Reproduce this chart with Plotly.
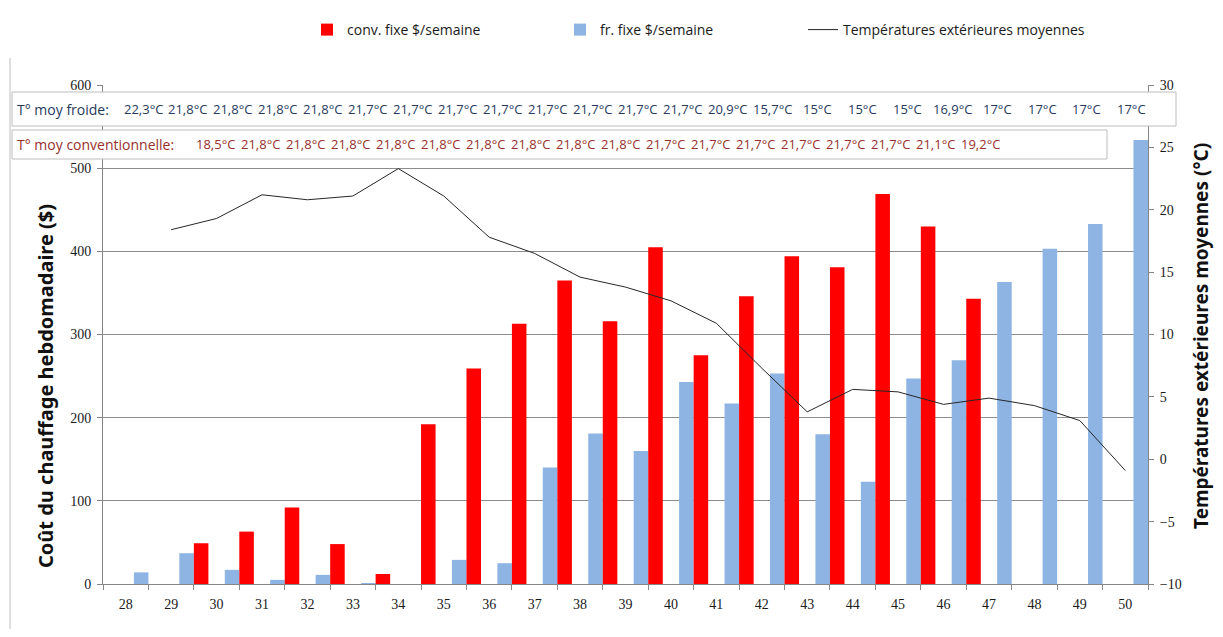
import plotly.graph_objects as go

# ---------------- data ----------------
weeks = list(range(28, 51))                      # category labels 28..50

fr_weeks = list(range(28, 51))                   # "fr. fixe" bars
fr_cost = [14, 37, 17, 5, 11, 1, 0, 29, 25, 140, 181, 160, 243, 217, 253,
           180, 123, 247, 269, 363, 403, 433, 534]

conv_weeks = list(range(29, 47))                 # "conv. fixe" bars
conv_cost = [49, 63, 92, 48, 12, 192, 259, 313, 365, 316, 405, 275, 346,
             394, 381, 469, 430, 343]

temp_weeks = list(range(29, 51))                 # outdoor temperature line
temp_ext = [18.4, 19.3, 21.2, 20.8, 21.1, 23.3, 21.1, 17.8, 16.5, 14.6,
            13.8, 12.7, 10.9, 7.3, 3.8, 5.6, 5.4, 4.4, 4.9, 4.3, 3.1, -0.9]

t_froide = ["22,3", "21,8", "21,8", "21,8", "21,8", "21,7", "21,7", "21,7",
            "21,7", "21,7", "21,7", "21,7", "21,7", "20,9", "15,7", "15",
            "15", "15", "16,9", "17", "17", "17", "17"]
t_conv = ["18,5", "21,8", "21,8", "21,8", "21,8", "21,8", "21,8", "21,8",
          "21,8", "21,8", "21,7", "21,7", "21,7", "21,7", "21,7", "21,7",
          "21,1", "19,2"]

y_left_ticks = [0, 100, 200, 300, 400, 500, 600]
y_right_ticks = [-10, -5, 0, 5, 10, 15, 20, 25, 30]

# ---------------- geometry helpers ----------------
# the page body has an 8px margin: the figure is sized/offset to compensate
OFF = 8
W, H = 1223 - 2 * OFF, 637 - 2 * OFF
ML, MT, PW, PH = 95, 77, 1045, 499
MR, MB = W - ML - PW, H - MT - PH


def px(page_x):
    return (page_x - OFF - ML) / PW


def py(page_y):
    return (MT + PH - (page_y - OFF)) / PH


RED = "#FF0000"
BLUE = "#8DB4E2"
GRID = "#8C8C8C"
AXIS = "#868686"
TICKFONT = dict(family="Liberation Serif", size=14, color="#1a1a1a")
LEGFONT = dict(family="Open Sans", size=14, color="#1a1a1a")
NAVY = "#263a5e"
DRED = "#97302c"

fig = go.Figure()

fig.add_trace(go.Bar(
    x=[w + 0.5 for w in fr_weeks], y=fr_cost, name="fr. fixe $/semaine",
    marker=dict(color=BLUE, line=dict(width=0)), legendrank=2))
fig.add_trace(go.Bar(
    x=[w + 0.5 for w in conv_weeks], y=conv_cost, name="conv. fixe $/semaine",
    marker=dict(color=RED, line=dict(width=0)), legendrank=1))
fig.add_trace(go.Scatter(
    x=temp_weeks, y=temp_ext, yaxis="y2", mode="lines",
    name="Températures extérieures moyennes", legend="legend2",
    line=dict(color="#262626", width=1)))

fig.update_layout(
    width=W, height=H,
    margin=dict(l=ML, r=MR, t=MT, b=MB, autoexpand=False),
    paper_bgcolor="white", plot_bgcolor="white",
    barmode="group", bargap=0.36, bargroupgap=0,
    font=dict(family="Open Sans", color="#222"),
    showlegend=True,
    legend=dict(orientation="h", x=px(307), xanchor="left",
                y=py(30), yanchor="middle", itemwidth=30,
                entrywidth=208, entrywidthmode="pixels",
                font=LEGFONT, traceorder="normal",
                bgcolor="rgba(0,0,0,0)"),
    legend2=dict(orientation="h", x=px(803), xanchor="left",
                 y=py(30), yanchor="middle", itemwidth=30,
                 font=LEGFONT, bgcolor="rgba(0,0,0,0)"),
    xaxis=dict(range=[27.5, 50.5], tickmode="array", tickvals=weeks,
               ticktext=[str(w) for w in weeks], ticks="",
               showgrid=False, zeroline=False, showline=True,
               linecolor=AXIS, linewidth=1, tickfont=TICKFONT,
               ticklabelstandoff=7,
               minor=dict(tickmode="array",
                          tickvals=[w + 0.5 for w in [27] + weeks],
                          ticks="outside", ticklen=5, tickcolor=AXIS,
                          showgrid=False)),
    yaxis=dict(range=[0, 600], tickmode="array", tickvals=y_left_ticks,
               showgrid=True, gridcolor=GRID, gridwidth=1,
               zeroline=False, showline=True, linecolor=AXIS,
               ticks="outside", ticklen=5, tickcolor=AXIS,
               tickfont=TICKFONT, ticklabelstandoff=3),
    yaxis2=dict(range=[-10, 30], tickmode="array", tickvals=y_right_ticks,
                overlaying="y", side="right", showgrid=False,
                zeroline=False, showline=True, linecolor=AXIS,
                ticks="outside", ticklen=5, tickcolor=AXIS,
                tickfont=TICKFONT, ticklabelstandoff=3),
)

# axis titles
fig.add_annotation(text="<b>Coût du chauffage hebdomadaire ($)</b>",
                   textangle=-90, xref="paper", yref="paper",
                   x=px(45), y=py(386), xanchor="center", yanchor="middle",
                   showarrow=False,
                   font=dict(family="Noto Sans", size=20, color="#111"))
fig.add_annotation(text="<b>Températures extérieures moyennes (°C)</b>",
                   textangle=-90, xref="paper", yref="paper",
                   x=px(1201), y=py(336), xanchor="center", yanchor="middle",
                   showarrow=False,
                   font=dict(family="Noto Sans", size=19, color="#111"))

# chart-area border on the left
fig.add_shape(type="line", xref="paper", yref="paper",
              x0=px(10), x1=px(10), y0=py(58), y1=py(640),
              line=dict(color="#BFBFBF", width=1))

# temperature text boxes
fig.add_shape(type="rect", xref="paper", yref="paper",
              x0=px(12), x1=px(1176), y0=py(126), y1=py(92),
              fillcolor="white", line=dict(color="#BDBDBD", width=1))
fig.add_shape(type="rect", xref="paper", yref="paper",
              x0=px(12), x1=px(1107), y0=py(159), y1=py(130),
              fillcolor="white", line=dict(color="#BDBDBD", width=1))

fig.add_annotation(text="T° moy froide:", xref="paper", yref="paper",
                   x=px(15), y=py(109), xanchor="left", yanchor="middle",
                   showarrow=False,
                   font=dict(family="Open Sans", size=14, color=NAVY))
for i, t in enumerate(t_froide):
    fig.add_annotation(text=t + "°C", xref="paper", yref="paper",
                       x=px(143 + i * 44.95), y=py(109), xanchor="center",
                       yanchor="middle", showarrow=False,
                       font=dict(family="Open Sans", size=13, color=NAVY))

fig.add_annotation(text="T° moy conventionnelle:", xref="paper",
                   yref="paper", x=px(15), y=py(144), xanchor="left",
                   yanchor="middle", showarrow=False,
                   font=dict(family="Open Sans", size=14, color=DRED))
for i, t in enumerate(t_conv):
    fig.add_annotation(text=t + "°C", xref="paper", yref="paper",
                       x=px(215 + i * 45.0), y=py(144), xanchor="center",
                       yanchor="middle", showarrow=False,
                       font=dict(family="Open Sans", size=13, color=DRED))

fig.write_html("out.html")
